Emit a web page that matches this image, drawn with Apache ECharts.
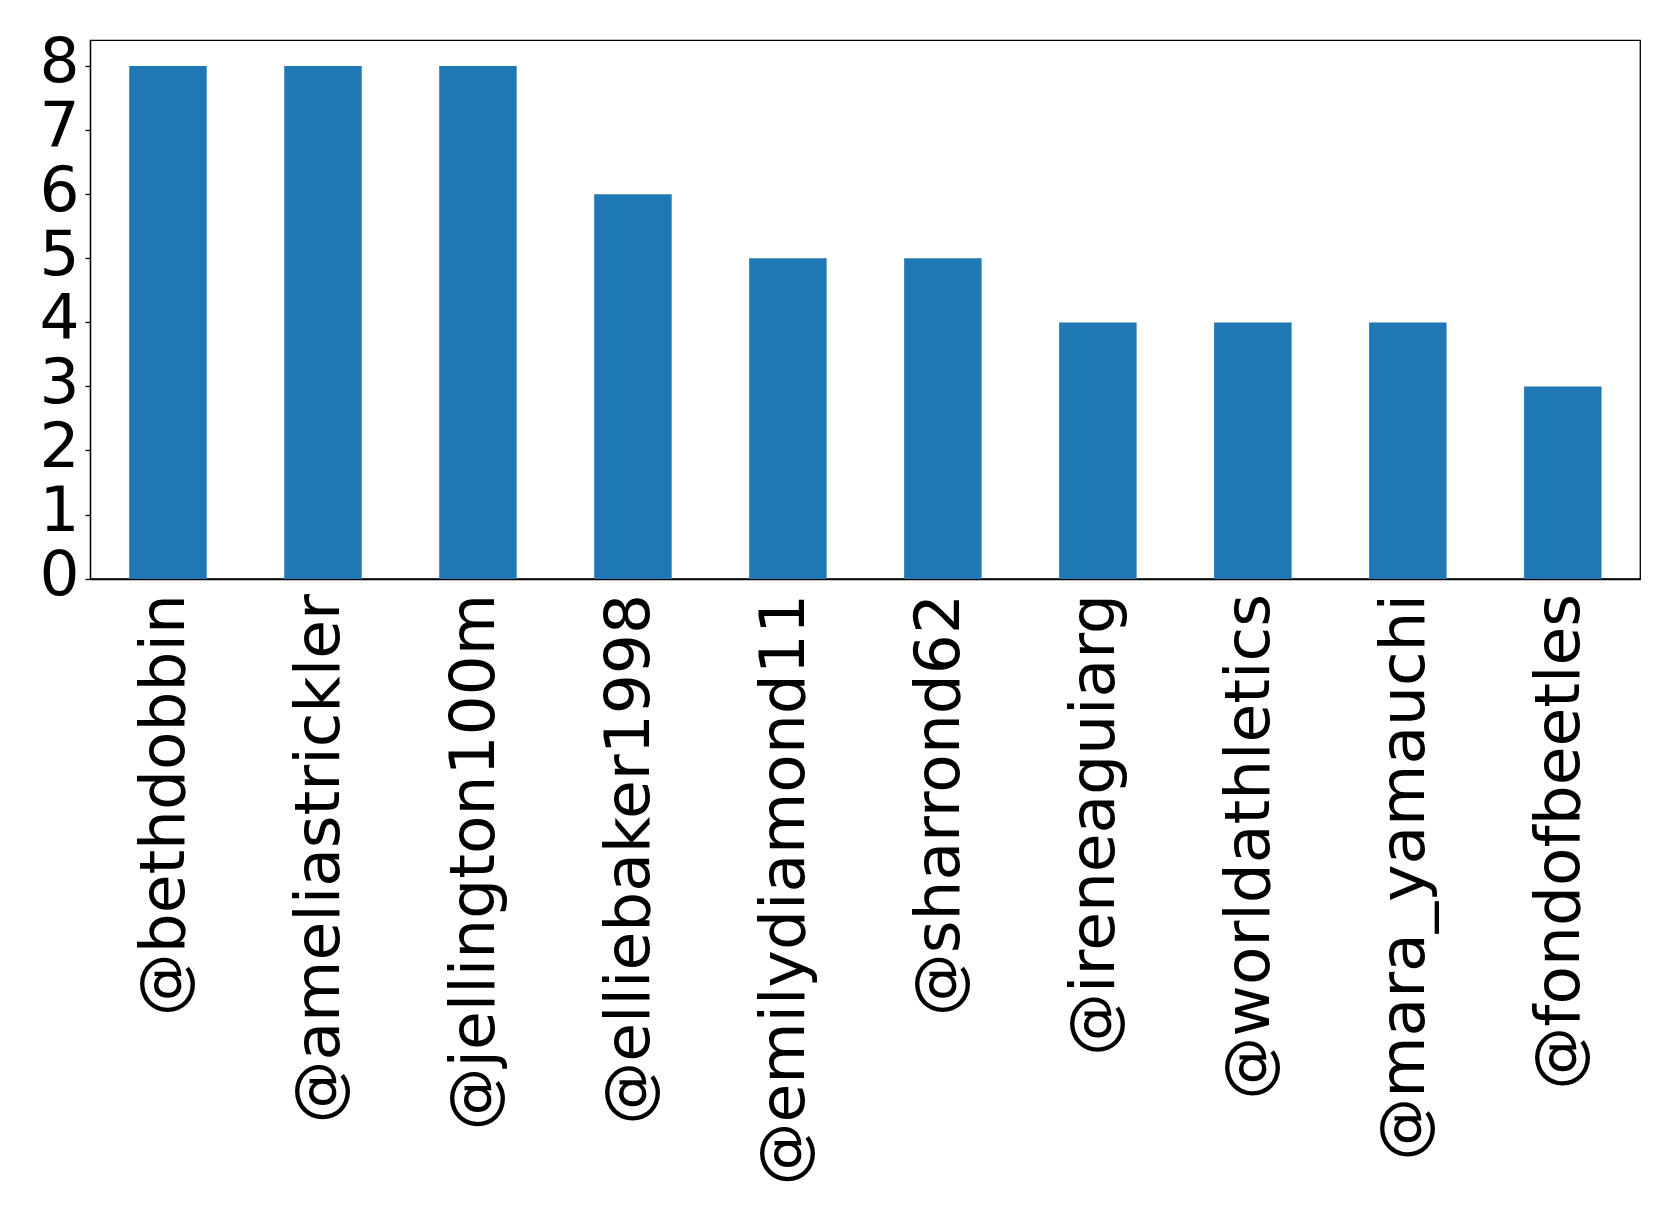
<!DOCTYPE html>
<html><head><meta charset="utf-8">
<script src="https://cdn.jsdelivr.net/npm/echarts@6/dist/echarts.min.js"></script>
<style>html,body{margin:0;padding:0;background:#fff}#c{width:1679px;height:1215px}</style>
</head><body><div id="c"></div>
<script>
const categories = ['@bethdobbin','@ameliastrickler','@jellington100m','@elliebaker1998','@emilydiamond11','@sharrond62','@ireneaguiarg','@worldathletics','@mara_yamauchi','@fondofbeetles'];
const values = [8,8,8,6,5,5,4,4,4,3];
const yTicks = [0,1,2,3,4,5,6,7,8];

const chart = echarts.init(document.getElementById('c'), null, {renderer:'canvas'});
const font = 'DejaVu Sans';
chart.setOption({
  animation:false,
  backgroundColor:'#fff',
  grid:{left:90.5,right:38.7,top:40.3,bottom:636,show:true,borderColor:'#000',borderWidth:1.3,backgroundColor:'transparent'},
  xAxis:{type:'category',data:categories,
    axisLine:{lineStyle:{color:'#000',width:1.3}},
    axisTick:{alignWithLabel:true,length:5,lineStyle:{color:'#000',width:1.3}},
    axisLabel:{rotate:90,interval:0,fontFamily:font,fontSize:63,color:'#000',margin:15}},
  yAxis:{type:'value',min:0,max:8.4,splitLine:{show:false},
    axisLine:{show:true,lineStyle:{color:'#000',width:1.3}},
    axisTick:{show:true,length:5,customValues:yTicks,lineStyle:{color:'#000',width:1.3}},
    axisLabel:{fontFamily:font,fontSize:63,color:'#000',margin:11,customValues:yTicks}},
  series:[{type:'bar',data:values,barWidth:'50%',itemStyle:{color:'#1f77b4'}}]
});
</script></body></html>
